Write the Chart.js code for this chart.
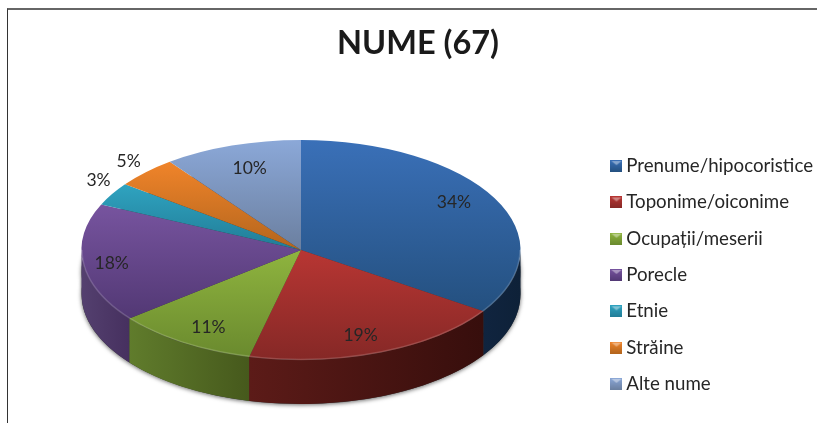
<!DOCTYPE html>
<html>
<head>
<meta charset="utf-8">
<title>NUME (67)</title>
<script src="https://cdn.jsdelivr.net/npm/chart.js@4/dist/chart.umd.js"></script>
<style>
  html, body { margin: 0; background: #fff; }
  #wrap { position: relative; width: 817px; height: 423px; overflow: hidden; }
  #frame { position: absolute; left: 7px; top: 8px; right: -2px; bottom: -2px; border: 1px solid #666; border-top-width: 2px; border-left-color: #333; }
  canvas { position: absolute; left: 0; top: 0; }
</style>
</head>
<body>
<div id="wrap">
  <div id="frame"></div>
  <canvas id="pie" width="817" height="423"></canvas>
</div>
<script>
const chartTitle = 'NUME (67)';
const categories = ['Prenume/hipocoristice', 'Toponime/oiconime', 'Ocupații/meserii', 'Porecle', 'Etnie', 'Străine', 'Alte nume'];
// percent shares, they round to the printed labels
const shares = [34.4, 19.4, 10.5, 17.5, 3.4, 4.6, 10.2];

const topLight = ['#3a70b8', '#b83633', '#8fb43f', '#77549f', '#2fa3c0', '#f0842a', '#8ba8d8'];
const topDark = ['#24507f', '#852826', '#6a8a2e', '#523874', '#217c96', '#b3651d', '#6b7f9f'];
const sideLight = ['#10243f', '#5c1b18', '#607c2c', '#54406f', '#1f6f87', '#a85c1a', '#5d6f8c'];
const sideDark = ['#0e2138', '#370e0c', '#46591c', '#46305f', '#1f6f87', '#a85c1a', '#5d6f8c'];

// where the flattened pie lands on the page
const pieX = 301, pieY = 250, pieRx = 219.5, pieRy = 110, pieDepth = 44;
// small hand shifts of the percent labels, in pixels
const labelShiftX = [-2, -4, 2, -15, 11, 3, 4];
const labelShiftY = [-6, 3, 3, 3, -6, -1, 2];

function legendIcon(i) {
  const c = document.createElement('canvas');
  c.width = 12; c.height = 12;
  const g = c.getContext('2d');
  const grad = g.createLinearGradient(0, 0, 0, 12);
  grad.addColorStop(0, topLight[i]);
  grad.addColorStop(1, topDark[i]);
  g.fillStyle = grad;
  g.fillRect(0, 0, 12, 12);
  g.fillStyle = 'rgba(255,255,255,0.4)';
  g.beginPath();
  g.moveTo(1, 1); g.lineTo(11, 1); g.lineTo(6, 5);
  g.fill();
  return c;
}

// vertical reach of a slice, -1 is the top of the circle and 1 the bottom
function sliceSpan(i) {
  const total = shares.reduce((a, b) => a + b, 0);
  const before = shares.slice(0, i).reduce((a, b) => a + b, 0);
  const a0 = before / total * Math.PI * 2;
  const a1 = (before + shares[i]) / total * Math.PI * 2;
  const ys = [0, -Math.cos(a0), -Math.cos(a1)];
  if (a0 < Math.PI && a1 > Math.PI) ys.push(1);
  return [Math.min(...ys), Math.max(...ys)];
}

function squash(ctx, arc) {
  ctx.translate(pieX, pieY);
  ctx.scale(pieRx / arc.outerRadius, pieRy / arc.outerRadius);
  ctx.translate(-arc.x, -arc.y);
}

const pie3d = {
  id: 'pie3d',
  beforeDatasetsDraw(chart) {
    const ctx = chart.ctx;
    const arcs = chart.getDatasetMeta(0).data;

    // soft shadow under the body
    ctx.save();
    ctx.shadowColor = 'rgba(0,0,0,0.6)';
    ctx.shadowBlur = 4;
    ctx.shadowOffsetY = 1;
    ctx.fillStyle = '#333';
    ctx.beginPath();
    ctx.ellipse(pieX, pieY + pieDepth, pieRx, pieRy, 0, 0, Math.PI * 2);
    ctx.fill();
    ctx.beginPath();
    ctx.ellipse(pieX, pieY + pieDepth / 2, pieRx, pieRy, 0, 0, Math.PI * 2);
    ctx.fill();
    ctx.restore();

    // front wall, only the part of each slice facing the viewer
    arcs.forEach((arc, i) => {
      const s = Math.max(arc.startAngle, 0);
      const e = Math.min(arc.endAngle, Math.PI);
      if (e <= s) return;
      const x0 = pieX + pieRx * Math.cos(e);
      const x1 = pieX + pieRx * Math.cos(s);
      const grad = ctx.createLinearGradient(x0, 0, x1, 0);
      grad.addColorStop(0, sideLight[i]);
      grad.addColorStop(1, sideDark[i]);
      ctx.fillStyle = grad;
      ctx.beginPath();
      ctx.ellipse(pieX, pieY, pieRx, pieRy, 0, s, e);
      ctx.ellipse(pieX, pieY + pieDepth, pieRx, pieRy, 0, e, s, true);
      ctx.closePath();
      ctx.fill();
    });

    ctx.save();
    squash(ctx, arcs[0]);
  },
  afterDatasetsDraw(chart) {
    const ctx = chart.ctx;
    ctx.restore();

    // lighter rim along the front edge
    ctx.save();
    ctx.strokeStyle = 'rgba(255,255,255,0.16)';
    ctx.lineWidth = 1.5;
    ctx.beginPath();
    ctx.ellipse(pieX, pieY, pieRx - 0.5, pieRy - 0.5, 0, 0, Math.PI);
    ctx.stroke();
    ctx.restore();

    // percent labels
    const arcs = chart.getDatasetMeta(0).data;
    ctx.save();
    ctx.font = '17.5px Lato';
    ctx.fillStyle = '#262626';
    ctx.textAlign = 'center';
    ctx.textBaseline = 'middle';
    arcs.forEach((arc, i) => {
      const mid = (arc.startAngle + arc.endAngle) / 2;
      const k = shares[i] < 6 ? 1.13 : 0.8;
      const x = pieX + pieRx * k * Math.cos(mid) + labelShiftX[i];
      const y = pieY + pieRy * k * Math.sin(mid) + labelShiftY[i];
      ctx.fillText(Math.round(shares[i]) + '%', x, y);
    });
    ctx.restore();
  }
};

new Chart(document.getElementById('pie'), {
  type: 'pie',
  plugins: [pie3d],
  data: {
    labels: categories,
    datasets: [{
      data: shares,
      borderWidth: 0,
      backgroundColor(c) {
        const area = c.chart.chartArea;
        if (!area) return topLight[c.dataIndex];
        const mid = (area.top + area.bottom) / 2;
        const r = (area.bottom - area.top) / 2;
        const span = sliceSpan(c.dataIndex);
        const grad = c.chart.ctx.createLinearGradient(0, mid + r * span[0], 0, mid + r * span[1]);
        grad.addColorStop(0, topLight[c.dataIndex]);
        grad.addColorStop(1, topDark[c.dataIndex]);
        return grad;
      }
    }]
  },
  options: {
    responsive: false,
    animation: false,
    layout: { padding: { left: 13, right: -6 } },
    plugins: {
      tooltip: { enabled: false },
      title: {
        display: true,
        text: chartTitle,
        color: '#1a1a1a',
        font: { family: 'Lato', size: 32.5, weight: 'bold' },
        padding: { top: 24, bottom: 64 }
      },
      legend: {
        position: 'right',
        fullSize: false,
        labels: {
          color: '#262626',
          font: { family: 'Lato', size: 18.7 },
          usePointStyle: true,
          boxWidth: 1,
          padding: 17.6,
          generateLabels(chart) {
            return categories.map((name, i) => ({
              text: name,
              index: i,
              pointStyle: legendIcon(i),
              fontColor: '#262626',
              lineWidth: 0
            }));
          }
        }
      }
    }
  }
});
</script>
</body>
</html>
